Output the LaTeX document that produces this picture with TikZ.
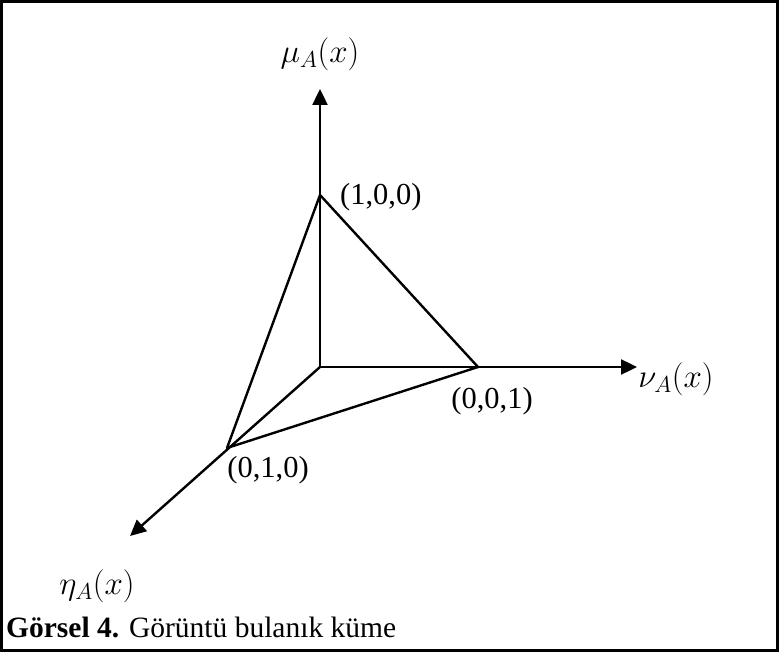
\documentclass[tikz,border=0pt]{standalone}
\usepackage{fix-cm}
\usepackage{fontspec}
\setmainfont{Liberation Serif}
\usetikzlibrary{arrows.meta}
\tikzset{
  axisline/.style={line width=2.4pt,-{Triangle[length=16pt,width=15pt]}},
  edgeline/.style={line width=2.4pt,line cap=round,line join=round},
  lbl/.style={inner sep=0pt,font=\fontsize{30.5}{36}\selectfont},
  caplbl/.style={inner sep=0pt,font=\fontsize{29.5}{36}\selectfont},
  mlbl/.style={inner sep=0pt,font=\fontsize{33}{40}\selectfont},
}
\begin{document}
\begin{tikzpicture}[x=1pt,y=-1pt]
\useasboundingbox (0,0) rectangle (779,652);
\draw[line width=2.4pt] (1.5,1.5) rectangle (777.5,650.5);
% vertices
\coordinate (O) at (320,367);
\coordinate (P100) at (320,195);
\coordinate (P001) at (478,367);
\coordinate (P010) at (227,448);
\coordinate (Tmu) at (320,89);
\coordinate (Tnu) at (637,367);
\coordinate (Teta) at (130,536);
% axes
\draw[axisline] (O) -- (Tmu);
\draw[axisline] (O) -- (Tnu);
\draw[axisline] (O) -- (Teta);
% triangle
\draw[edgeline] (P100) -- (P001) -- (P010) -- cycle;
% labels
\node[mlbl] (lmu) at (320,54) {$\mu_A(x)$};
\node[mlbl] (lnu) at (676,379) {$\nu_A(x)$};
\node[mlbl] (leta) at (97,586) {$\eta_A(x)$};
\node[lbl,anchor=west] (l100) at (340,197) {(1,0,0)};
\node[lbl] (l001) at (492,401) {(0,0,1)};
\node[lbl] (l010) at (268,470) {(0,1,0)};
\node[caplbl,anchor=base west] (cap) at (6,637) {\textbf{Görsel 4.} Görüntü bulanık küme};
\end{tikzpicture}
\end{document}
